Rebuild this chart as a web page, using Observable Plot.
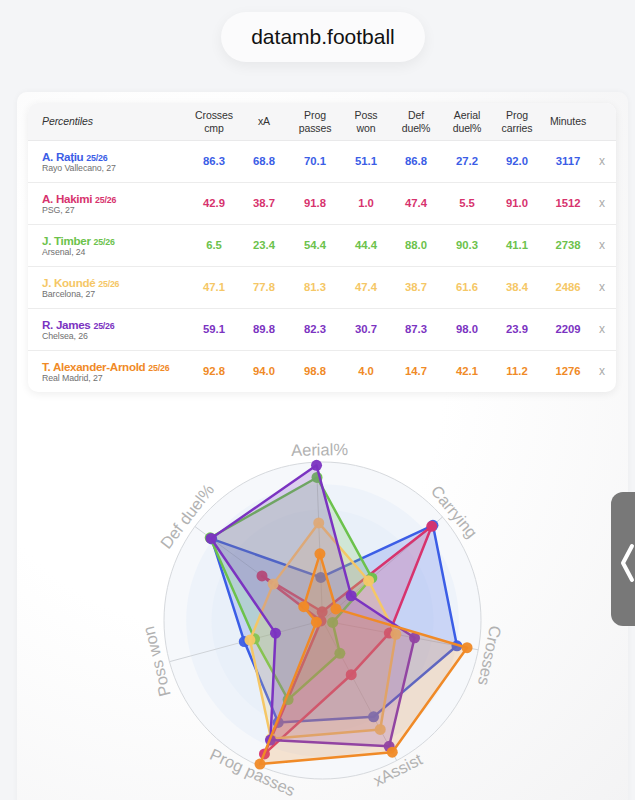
<!DOCTYPE html>
<html>
<head>
<meta charset="utf-8">
<script src="https://cdn.jsdelivr.net/npm/d3@7"></script>
<script src="https://cdn.jsdelivr.net/npm/@observablehq/plot@0.6"></script>
<style>
  html, body { margin: 0; padding: 0; }
  body { width: 635px; height: 800px; overflow: hidden; background: #f4f5f7; position: relative;
         font-family: "Liberation Sans", Arial, Helvetica, sans-serif; }
  #pill { position: absolute; left: 221px; top: 12px; width: 204px; height: 50px; border-radius: 25px;
          background: #fbfbfc; box-shadow: 0 4px 14px rgba(0,0,0,0.06);
          display: flex; align-items: center; justify-content: center; font-size: 21px; color: #111; }
  #card { position: absolute; left: 17px; top: 92px; width: 611px; height: 720px; border-radius: 10px;
          background: radial-gradient(ellipse at 30% 40%, #ffffff 40%, #f3f3f4 100%);
          box-shadow: 0 0 6px rgba(0,0,0,0.04); }
  #table { position: absolute; left: 28px; top: 103px; width: 588px; height: 289px; border-radius: 10px;
           background: #fff; box-shadow: 0 2px 8px rgba(0,0,0,0.07); overflow: hidden; }
  .hdr { position: absolute; left: 0; top: 0; width: 588px; height: 37px; background: #f6f6f7;
         border-bottom: 1px solid #e9e9ea; }
  .hcell { position: absolute; top: 0; height: 37px; transform: translateX(-50%); text-align: center;
           font-size: 10.5px; line-height: 13px; color: #333; display: flex; align-items: center; white-space: pre; letter-spacing: -0.1px; }
  .row { position: absolute; left: 0; width: 588px; height: 42px; border-bottom: 1px solid #ececec; }
  .name { position: absolute; left: 14px; top: 10px; font-size: 11.6px; font-weight: bold; line-height: 13px; white-space: nowrap; letter-spacing: -0.3px; }
  .name small { font-size: 8.8px; font-weight: bold; letter-spacing: -0.2px; }
  .team { position: absolute; left: 14px; top: 23px; font-size: 8.8px; color: #707070; line-height: 11px; white-space: nowrap; letter-spacing: -0.1px; }
  .val { position: absolute; top: 14px; transform: translateX(-50%); font-size: 11.3px; font-weight: bold; line-height: 14px; }
  .close { position: absolute; top: 14px; transform: translateX(-50%); font-size: 12px; color: #aaa; line-height: 14px; }
  #chart { position: absolute; left: 0; top: 400px; }
  #tab { position: absolute; left: 611px; top: 492px; width: 40px; height: 134px; border-radius: 12px;
         background: #787878; }
  #tab svg { position: absolute; left: 0; top: 0; }
</style>
</head>
<body>
<div id="pill">datamb.football</div>
<div id="card"></div>
<div id="table"></div>
<div id="chart"></div>
<div id="tab"><svg width="40" height="134"><polyline points="21,54 12,71 21,88" fill="none" stroke="#fff" stroke-width="4" stroke-linecap="round" stroke-linejoin="round"/></svg></div>
<script>
// ---------- data ----------
const players = ["A. Rațiu", "A. Hakimi", "J. Timber", "J. Koundé", "R. James", "T. Alexander-Arnold"];
const teams = ["Rayo Vallecano, 27", "PSG, 27", "Arsenal, 24", "Barcelona, 27", "Chelsea, 26", "Real Madrid, 27"];
const season = "25/26";
const colors = ["#3b5de6", "#d7336e", "#6cc24c", "#f5c766", "#7b33c1", "#f08a27"];
const headerLabels = ["Crosses\ncmp", "xA", "Prog\npasses", "Poss\nwon", "Def\nduel%", "Aerial\nduel%", "Prog\ncarries", "Minutes"];
const crossesCmp = [86.3, 42.9, 6.5, 47.1, 59.1, 92.8];
const xA = [68.8, 38.7, 23.4, 77.8, 89.8, 94.0];
const progPasses = [70.1, 91.8, 54.4, 81.3, 82.3, 98.8];
const possWon = [51.1, 1.0, 44.4, 47.4, 30.7, 4.0];
const defDuel = [86.8, 47.4, 88.0, 38.7, 87.3, 14.7];
const aerialDuel = [27.2, 5.5, 90.3, 61.6, 98.0, 42.1];
const progCarries = [92.0, 91.0, 41.1, 38.4, 23.9, 11.2];
const minutes = [3117, 1512, 2738, 2486, 2209, 1276];
const radarAxes = ["Aerial%", "Carrying", "Crosses", "xAssist", "Prog passes", "Poss won", "Def duel%"];
const radarSeries = [aerialDuel, progCarries, crossesCmp, xA, progPasses, possWon, defDuel];

// ---------- table ----------
const colCenters = [186, 236, 287, 338, 388, 439, 489, 540];
const tbl = document.getElementById("table");
const hdr = document.createElement("div"); hdr.className = "hdr"; tbl.appendChild(hdr);
const pc = document.createElement("div"); pc.className = "hcell";
pc.style.left = "14px"; pc.style.transform = "none"; pc.style.fontStyle = "italic"; pc.textContent = "Percentiles";
hdr.appendChild(pc);
headerLabels.forEach((h, j) => {
  const c = document.createElement("div"); c.className = "hcell"; c.style.left = colCenters[j] + "px";
  c.textContent = h; hdr.appendChild(c);
});
const tableCols = [crossesCmp, xA, progPasses, possWon, defDuel, aerialDuel, progCarries];
players.forEach((p, i) => {
  const r = document.createElement("div"); r.className = "row"; r.style.top = (37 + i * 42) + "px";
  if (i === players.length - 1) r.style.borderBottom = "none";
  const n = document.createElement("div"); n.className = "name"; n.style.color = colors[i];
  n.innerHTML = `${p} <small>${season}</small>`; r.appendChild(n);
  const t = document.createElement("div"); t.className = "team"; t.textContent = teams[i]; r.appendChild(t);
  tableCols.forEach((col, j) => {
    const v = document.createElement("div"); v.className = "val"; v.style.left = colCenters[j] + "px";
    v.style.color = colors[i]; v.textContent = col[i].toFixed(1); r.appendChild(v);
  });
  const m = document.createElement("div"); m.className = "val"; m.style.left = colCenters[7] + "px";
  m.style.color = colors[i]; m.textContent = minutes[i]; r.appendChild(m);
  const x = document.createElement("div"); x.className = "close"; x.style.left = "574px"; x.textContent = "x"; r.appendChild(x);
  tbl.appendChild(r);
});

// ---------- radar ----------
const W = 635, H = 400, PX = 1.585, CX = 322, CY = 220;
const n = radarAxes.length;
const ROT = -2.2;        // chart's slight rotation (degrees)
const LROT = -1;         // label rotation offset
const rad = d => d * Math.PI / 180;
const axDeg = k => k * 360 / n;
const polar = (v, k, off = ROT) => ({x: v * Math.sin(rad(axDeg(k) + off)), y: v * Math.cos(rad(axDeg(k) + off))});

const ringPts = r => d3.range(0, 360, 3).map(d => ({x: r * Math.sin(rad(d)), y: r * Math.cos(rad(d))}));
const spokes = radarAxes.map((a, k) => polar(100, k));
const labels = radarAxes.map((a, k) => {
  let deg = axDeg(k);
  const flip = deg > 120 && deg < 240;
  let rot = flip ? deg - 180 : (deg >= 240 ? deg - 360 : deg);
  return {...polar(flip ? 105.8 : 107.5, k, LROT), text: a, rotate: rot + LROT};
});

const marks = [
  Plot.line(ringPts(100), {x: "x", y: "y", curve: "linear-closed", fill: "#f6f8fb", stroke: "#d6d9dd", strokeWidth: 1}),
  Plot.line(ringPts(86), {x: "x", y: "y", curve: "linear-closed", fill: "#eef3fa", stroke: "none"}),
  Plot.line(ringPts(70), {x: "x", y: "y", curve: "linear-closed", fill: "#e9f0f9", stroke: "none"}),
  Plot.link(spokes, {x1: 0, y1: 0, x2: "x", y2: "y", stroke: "#cfd3d8", strokeWidth: 1}),
  Plot.text(labels, {x: "x", y: "y", text: "text", rotate: "rotate", fontSize: 16.5, fill: "#b2b2b2",
    textAnchor: "middle", lineAnchor: "middle", fontFamily: "Liberation Sans, Arial, sans-serif"})
];
players.forEach((p, i) => {
  const pts = radarSeries.map((s, k) => polar(s[i], k));
  marks.push(
    Plot.line(pts, {x: "x", y: "y", curve: "linear-closed", fill: colors[i], fillOpacity: 0.2,
      stroke: colors[i], strokeWidth: 2.5, strokeLinejoin: "round"}),
    Plot.dot(pts, {x: "x", y: "y", r: 5.5, fill: colors[i], fillOpacity: 0.95, stroke: "none"})
  );
});

const chart = Plot.plot({
  width: W, height: H, margin: 0,
  x: {domain: [-CX / PX, (W - CX) / PX], range: [0, W], axis: null},
  y: {domain: [-(H - CY) / PX, CY / PX], range: [H, 0], axis: null},
  style: {background: "transparent", overflow: "visible"},
  marks
});
document.getElementById("chart").appendChild(chart);
</script>
</body>
</html>
